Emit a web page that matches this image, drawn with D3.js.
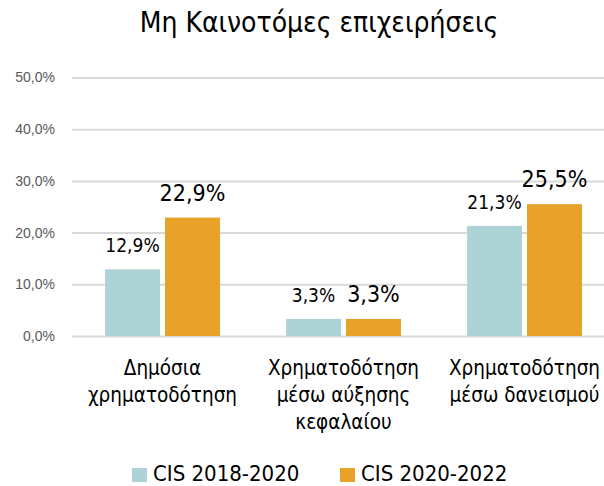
<!DOCTYPE html>
<html><head><meta charset="utf-8">
<script src="https://cdn.jsdelivr.net/npm/d3@7"></script>
<style>
html,body{margin:0;padding:0;background:#fff;}
svg{display:block;font-family:"DejaVu Sans Condensed","Liberation Sans Narrow","Roboto",sans-serif;}
</style></head>
<body>
<svg id="chart" width="604" height="486"></svg>
<script>
const title = "Μη Καινοτόμες επιχειρήσεις";
const categories = ["Δημόσια χρηματοδότηση", "Χρηματοδότηση μέσω αύξησης κεφαλαίου", "Χρηματοδότηση μέσω δανεισμού"];
const categoryLines = [["Δημόσια", "χρηματοδότηση"], ["Χρηματοδότηση", "μέσω αύξησης", "κεφαλαίου"], ["Χρηματοδότηση", "μέσω δανεισμού"]];
const seriesNames = ["CIS 2018-2020", "CIS 2020-2022"];
const cis2018 = [12.9, 3.3, 21.3];
const cis2020 = [22.9, 3.3, 25.5];
const yTicks = [0, 10, 20, 30, 40, 50];
const colors = ["#AED3D6", "#E9A229"];

const svg = d3.select("#chart");
const values = [cis2018, cis2020];

const y = d3.scaleLinear().domain([0, 50]).range([336, 77.5]);
const x = d3.scaleBand().domain(categories).range([72, 615]).paddingInner(0.365).paddingOuter(0.1825);
const xs = d3.scaleBand().domain(seriesNames).range([0, x.bandwidth()]).paddingInner(0.0833).paddingOuter(0);

const fmt = v => d3.format(".1f")(v).replace(".", ",") + "%";

// grid
const yAxis = d3.axisLeft(y).tickValues(yTicks).tickSize(-(604 - 72)).tickFormat(fmt).tickPadding(17);
const ga = svg.append("g").attr("transform", "translate(72,0)").call(yAxis);
ga.select(".domain").remove();
ga.selectAll(".tick line").attr("stroke", "#d9d9d9").attr("stroke-width", 2);
ga.selectAll(".tick text").attr("fill", "#595959").style("font-size", "14px").style("font-family", "inherit");

// bars
seriesNames.forEach((s, si) => {
  const g = svg.append("g");
  g.selectAll("rect").data(categories).join("rect")
    .attr("x", c => x(c) + xs(s))
    .attr("width", xs.bandwidth())
    .attr("y", (c, i) => y(values[si][i]))
    .attr("height", (c, i) => y(0) - y(values[si][i]))
    .attr("fill", colors[si]);
  g.selectAll("text").data(categories).join("text")
    .attr("x", c => x(c) + xs(s) + xs.bandwidth() / 2)
    .attr("y", (c, i) => y(values[si][i]) - 17)
    .attr("text-anchor", "middle")
    .attr("fill", "#000")
    .style("font-size", si === 0 ? "19px" : "23px")
    .text((c, i) => fmt(values[si][i]));
});

// category labels
categories.forEach((c, i) => {
  const t = svg.append("text")
    .attr("x", x(c) + x.bandwidth() / 2)
    .attr("y", 375)
    .attr("text-anchor", "middle")
    .attr("fill", "#000")
    .style("font-size", "20.5px");
  categoryLines[i].forEach((l, li) => {
    t.append("tspan").attr("x", x(c) + x.bandwidth() / 2).attr("y", 375 + li * 27).text(l);
  });
});

// title
svg.append("text").attr("x", 319).attr("y", 32).attr("text-anchor", "middle")
  .style("font-size", "28px").attr("fill", "#000").text(title);

// legend
const legendX = [132, 340];
seriesNames.forEach((s, i) => {
  svg.append("rect").attr("x", legendX[i]).attr("y", 468).attr("width", 15).attr("height", 14).attr("fill", colors[i]);
  svg.append("text").attr("x", legendX[i] + 21).attr("y", 481)
    .style("font-size", "22px").attr("fill", "#000").text(s);
});
</script>
</body></html>
